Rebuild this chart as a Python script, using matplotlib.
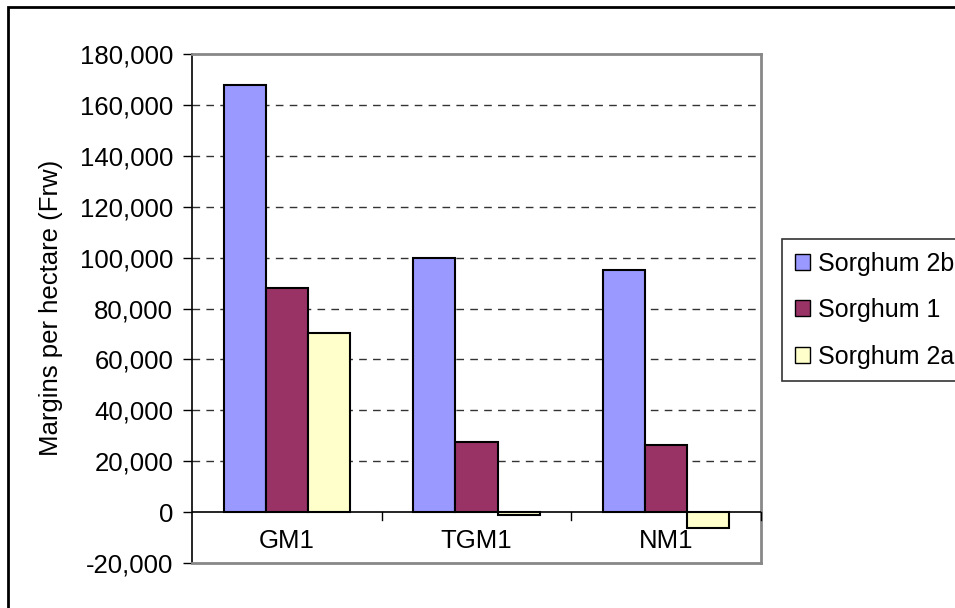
import matplotlib
matplotlib.use("Agg")
import matplotlib.pyplot as plt
import numpy as np
from matplotlib.patches import Patch, Rectangle
from matplotlib.ticker import FuncFormatter, MultipleLocator

# Margins per hectare by variety and series
categories = ["GM1", "TGM1", "NM1"]
series_names = ["Sorghum 2b", "Sorghum 1", "Sorghum 2a"]
sorghum_2b = [168000, 100000, 95000]
sorghum_1 = [88000, 27500, 26500]
sorghum_2a = [70500, -1000, -6200]
y_ticks = list(range(-20000, 180001, 20000))

colors = ["#9999FF", "#993366", "#FFFFCC"]

plt.rcParams["font.family"] = ["Liberation Sans", "DejaVu Sans"]

W, H = 955, 608
fig = plt.figure(figsize=(W / 100, H / 100), dpi=100)
fig.patch.set_facecolor("white")

# plot area in pixel coordinates
left, right, top, bottom = 192, 761, 54, 563
ax = fig.add_axes([left / W, 1 - bottom / H, (right - left) / W, (bottom - top) / H])

x = np.arange(len(categories))
width = 1 / 4.5
for i, (vals, name, col) in enumerate(zip([sorghum_2b, sorghum_1, sorghum_2a],
                                          series_names, colors)):
    ax.bar(x + (i - 1) * width, vals, width, color=col, edgecolor="black",
           linewidth=1.5, label=name, zorder=3)

ax.set_xlim(-0.5, len(categories) - 0.5)
ax.set_ylim(y_ticks[0], y_ticks[-1])
ax.yaxis.set_major_locator(MultipleLocator(20000))
ax.yaxis.set_major_formatter(FuncFormatter(lambda v, p: f"{v:,.0f}"))
ax.tick_params(axis="y", labelsize=18.5, length=6.5, width=1, pad=7, direction="out")
ax.set_xticks([])

# dashed horizontal gridlines
for yv in y_ticks[1:-1]:
    if yv != 0:
        ax.axhline(yv, color="#333333", lw=1, linestyle=(0, (5.5, 4.5)), zorder=1)

# category axis crossing at zero
ax.axhline(0, color="black", lw=1.2, zorder=4)
tick_len = 8 / ((bottom - top) / (y_ticks[-1] - y_ticks[0]))
for b in np.arange(0.5, len(categories) + 0.5, 1.0):
    ax.plot([b, b], [0, -tick_len], color="black", lw=1, zorder=4, clip_on=False)
for xi, cat in zip(x, categories):
    ax.annotate(cat, xy=(xi, 0), xytext=(0, -21), textcoords="offset points",
                ha="center", va="center", fontsize=18.5)

for side in ["top", "right", "bottom"]:
    ax.spines[side].set_color("#888888")
    ax.spines[side].set_linewidth(2)
ax.spines["left"].set_color("black")
ax.spines["left"].set_linewidth(1.2)

fig.text(51 / W, 1 - 308 / H, "Margins per hectare (Frw)", rotation=90,
         ha="center", va="center", fontsize=18.5)

handles = [Patch(facecolor=c, edgecolor="black", linewidth=1) for c in colors]
leg = fig.legend(handles, series_names, loc="upper left",
                 bbox_to_anchor=(782 / W, 1 - 239 / H), fontsize=18,
                 frameon=True, fancybox=False, edgecolor="black",
                 borderpad=0.5, labelspacing=0.9, handlelength=0.62,
                 handleheight=0.62, handletextpad=0.3, borderaxespad=0)
leg.get_frame().set_linewidth(1.2)

# outer chart border
fig.patches.append(Rectangle((8 / W, -0.1), 1.2, 1 - 7 / H + 0.1, fill=False,
                             edgecolor="black", linewidth=2,
                             transform=fig.transFigure))

fig.savefig("out.png", dpi=100)
